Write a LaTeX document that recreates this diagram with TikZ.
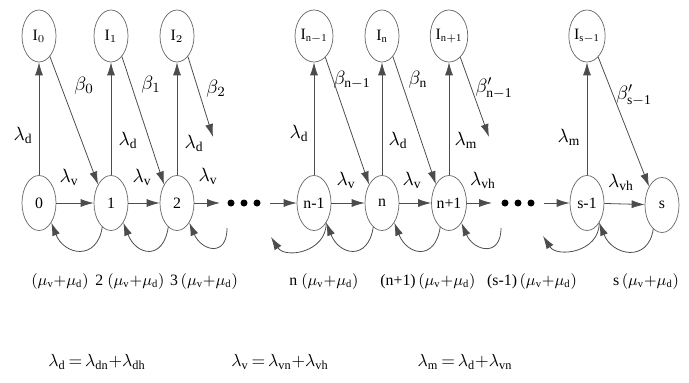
\documentclass[tikz,border=0pt]{standalone}
\usepackage{fontspec}
\setmainfont{Liberation Serif}
\usetikzlibrary{positioning,arrows.meta,shapes.geometric}

\newcommand{\lam}[1]{$\lambda_{\mathrm{#1}}$}
\newcommand{\mus}{$(\mu_{\mathrm{v}}{+}\mu_{\mathrm{d}})$}

\begin{document}
\begin{tikzpicture}[
  x=0.2mm, y=-0.2mm,
  font=\fontsize{11}{13}\selectfont,
  st/.style={ellipse, draw=black!60, line width=0.4pt, minimum width=6.8mm,
             minimum height=11mm, inner sep=0pt, font=\fontsize{9}{11}\selectfont},
  idl/.style={st, minimum height=10.4mm},
  arr/.style={-{Latex[length=2.6mm,width=1.6mm]}, draw=black!70, line width=0.45pt},
  lbl/.style={inner sep=1pt},
  mul/.style={lbl, font=\fontsize{9}{11}\selectfont},
  eqn/.style={lbl, font=\fontsize{10}{12}\selectfont},
  dotn/.style={circle, fill=black, inner sep=0pt, minimum size=1.4mm}
]
\useasboundingbox (0,0) rectangle (689,383);

% states
\node[st] (s0)  at ( 39,203) {0};
\node[st] (s1)  at (111,203) {1};
\node[st] (s2)  at (177,203) {2};
\node[st] (snm) at (314,203) {n-1};
\node[st] (sn)  at (382,203) {n};
\node[st] (snp) at (449,203) {n+1};
\node[st] (ssm) at (587,203) {s-1};
\node[st] (ss)  at (662,205) {s};

% idle states
\node[idl] (i0)  at ( 39,36) {I$_0$};
\node[idl] (i1)  at (111,36) {I$_1$};
\node[idl] (i2)  at (177,36) {I$_2$};
\node[idl] (inm) at (314,36) {I$_{\mathrm{n-1}}$};
\node[idl] (in)  at (382,36) {I$_{\mathrm{n}}$};
\node[idl] (inp) at (449,36) {I$_{\mathrm{n+1}}$};
\node[idl] (ism) at (587,36) {I$_{\mathrm{s-1}}$};

% dots
\foreach \x/\n in {231/a1, 244/a2, 257/a3, 505/b1, 518/b2, 531/b3}
  \node[dotn] (\n) at (\x,203) {};
\coordinate (d1) at (220,203);
\coordinate (d2) at (270,203);
\coordinate (d3) at (492,203);
\coordinate (d4) at (544,203);
\coordinate (f2)  at (213,137);
\coordinate (fnp) at (489,137);

% free ends of the loops
\coordinate (l3) at (227,228);
\coordinate (e1) at (271,237);
\coordinate (l4) at (501,228);
\coordinate (e2) at (543,236);

% horizontal arrows
\draw[arr] (s0) -- (s1);
\draw[arr] (s1) -- (s2);
\draw[arr] (s2) -- (d1);
\draw[arr] (d2) -- (snm);
\draw[arr] (snm) -- (sn);
\draw[arr] (sn) -- (snp);
\draw[arr] (snp) -- (d3);
\draw[arr] (d4) -- (ssm);
\draw[arr] (ssm) -- (ss);

% up to idle
\foreach \a/\b in {s0/i0, s1/i1, s2/i2, snm/inm, sn/in, snp/inp, ssm/ism}
  \draw[arr] (\a) -- (\b);

% back from idle
\draw[arr] (i0.-62) -- (s1.125);
\draw[arr] (i1.-62) -- (s2.125);
\draw[arr] (i2.-62) -- (f2);
\draw[arr] (inm.-62) -- (sn.125);
\draw[arr] (in.-62) -- (snp.125);
\draw[arr] (inp.-62) -- (fnp);
\draw[arr] (ism.-62) -- (ss.125);

% loops below
\draw[arr] (s1.250) .. controls +(-5,34) and +(13,33) .. (s0.-58);
\draw[arr] (s2.250) .. controls +(-5,34) and +(13,33) .. (s1.-58);
\draw[arr] (l3) .. controls +(0,30) and +(12,28) .. (s2.-58);
\draw[arr] (snm.-58) .. controls +(0,30) and +(14,22) .. (e1);
\draw[arr] (sn.250) .. controls +(-5,34) and +(13,33) .. (snm.-58);
\draw[arr] (snp.250) .. controls +(-5,34) and +(13,33) .. (sn.-58);
\draw[arr] (l4) .. controls +(0,30) and +(12,28) .. (snp.-58);
\draw[arr] (ssm.-58) .. controls +(0,30) and +(14,22) .. (e2);
\draw[arr] (ss.250) .. controls +(-5,34) and +(13,33) .. (ssm.-58);

% rates
\node[lbl] (ld0)  at ( 23,135) {\lam{d}};
\node[lbl] (ld1)  at (128,140) {\lam{d}};
\node[lbl] (ld2)  at (194,143) {\lam{d}};
\node[lbl] (ldnm) at (299,133) {\lam{d}};
\node[lbl] (ldn)  at (398,140) {\lam{d}};
\node[lbl] (lmnp) at (466,140) {\lam{m}};
\node[lbl] (lmsm) at (569,137) {\lam{m}};

\node[lbl] (b0)  at ( 84,86) {$\beta_0$};
\node[lbl] (b1)  at (151,85) {$\beta_1$};
\node[lbl] (b2)  at (216,89) {$\beta_2$};
\node[lbl] (bnm) at (352,80) {$\beta_{\mathrm{n-1}}$};
\node[lbl] (bn)  at (418,80) {$\beta_{\mathrm{n}}$};
\node[lbl] (bnp) at (494,88) {$\beta'_{\mathrm{n-1}}$};
\node[lbl] (bsm) at (634,95) {$\beta'_{\mathrm{s-1}}$};

\node[lbl] (lv0)  at ( 69,177) {\lam{v}};
\node[lbl] (lv1)  at (142,177) {\lam{v}};
\node[lbl] (lv2)  at (208,176) {\lam{v}};
\node[lbl] (lvnm) at (346,180) {\lam{v}};
\node[lbl] (lvn)  at (412,180) {\lam{v}};
\node[lbl] (lvnp) at (483,180) {\lam{vh}};
\node[lbl] (lvsm) at (621,182) {\lam{vh}};

% departure rates
\node[mul] (m1)  at ( 60,282) {\mus};
\node[mul] (m2)  at (130,282) {2 \mus};
\node[mul] (m3)  at (204,282) {3\,\mus};
\node[mul] (mn)  at (324,282) {n \mus};
\node[mul] (mnp) at (428,282) {(n+1)\,\mus};
\node[mul] (msm) at (532,282) {(s-1)\,\mus};
\node[mul] (ms)  at (646,282) {s\,\mus};

% definitions
\node[eqn] (eqd) at ( 97,362) {$\lambda_{\mathrm{d}}\,{=}\,\lambda_{\mathrm{dn}}{+}\lambda_{\mathrm{dh}}$};
\node[eqn] (eqv) at (280,362) {$\lambda_{\mathrm{v}}\,{=}\,\lambda_{\mathrm{vn}}{+}\lambda_{\mathrm{vh}}$};
\node[eqn] (eqm) at (465,362) {$\lambda_{\mathrm{m}}\,{=}\,\lambda_{\mathrm{d}}{+}\lambda_{\mathrm{vn}}$};
\end{tikzpicture}
\end{document}
